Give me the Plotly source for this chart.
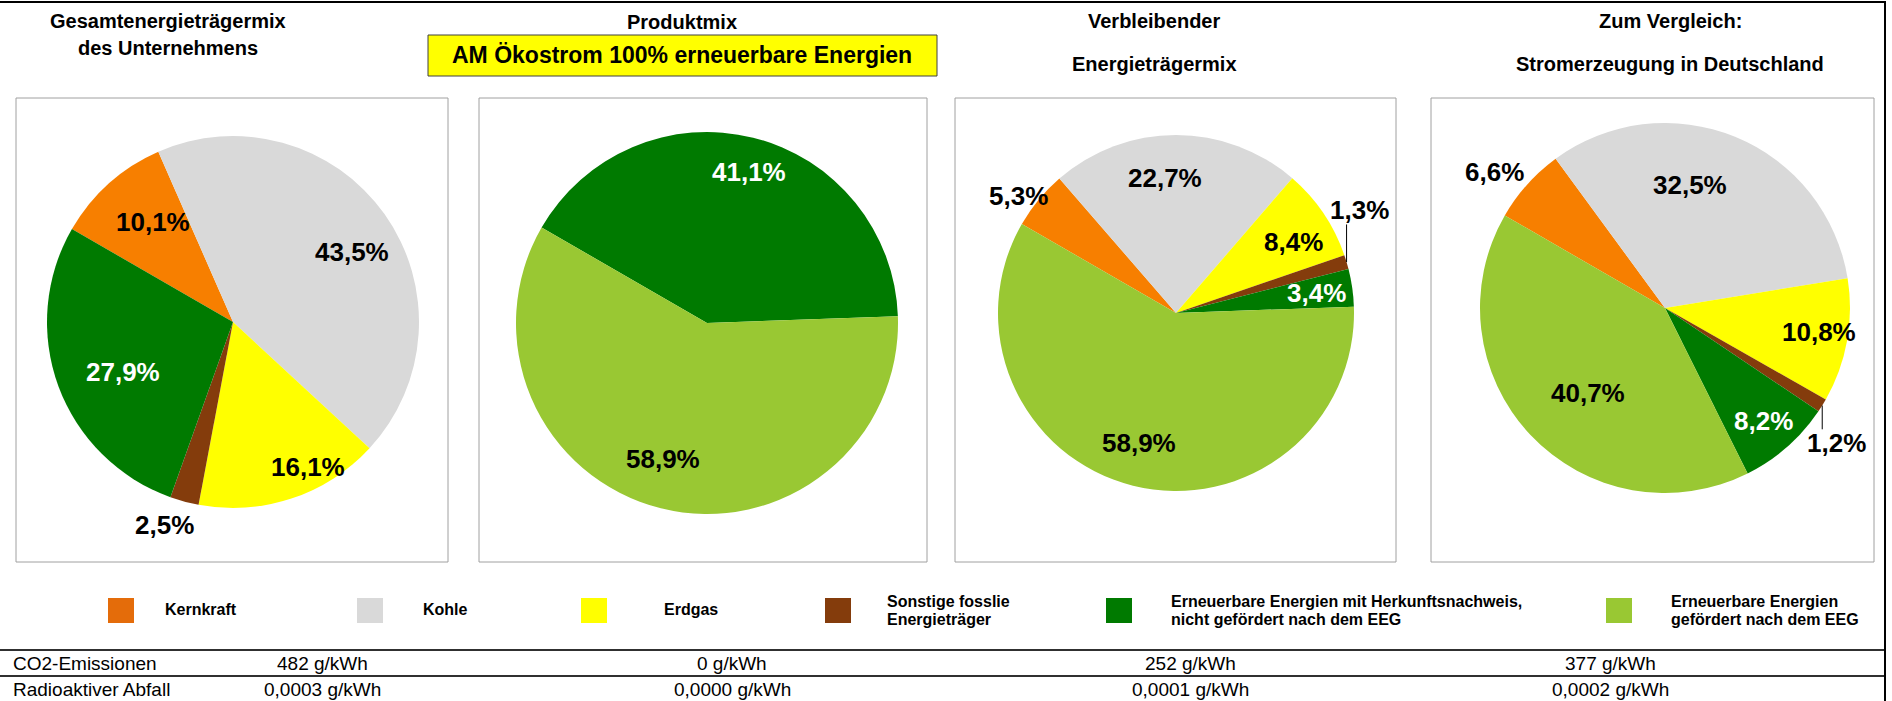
import math
import plotly.graph_objects as go

W, H = 1892, 701

# ---------------- data ----------------
categories = [
    "Kernkraft",
    "Kohle",
    "Erdgas",
    "Sonstige fosslie Energieträger",
    "Erneuerbare Energien mit Herkunftsnachweis, nicht gefördert nach dem EEG",
    "Erneuerbare Energien gefördert nach dem EEG",
]
legend_lines = [
    ["Kernkraft"],
    ["Kohle"],
    ["Erdgas"],
    ["Sonstige fosslie", "Energieträger"],
    ["Erneuerbare Energien mit Herkunftsnachweis,", "nicht gefördert nach dem EEG"],
    ["Erneuerbare Energien", "gefördert nach dem EEG"],
]

mix_unternehmen = [10.1, 43.5, 16.1, 2.5, 27.9, 0.0]
mix_produkt = [0.0, 0.0, 0.0, 0.0, 41.1, 58.9]
mix_verbleibend = [5.3, 22.7, 8.4, 1.3, 3.4, 58.9]
mix_deutschland = [6.6, 32.5, 10.8, 1.2, 8.2, 40.7]

titles = [
    ["Gesamtenergieträgermix", "des Unternehmens"],
    ["Produktmix"],
    ["Verbleibender", "Energieträgermix"],
    ["Zum Vergleich:", "Stromerzeugung in Deutschland"],
]
product_name = "AM Ökostrom 100% erneuerbare Energien"

row_labels = ["CO2-Emissionen", "Radioaktiver Abfall"]
co2_values = ["482 g/kWh", "0 g/kWh", "252 g/kWh", "377 g/kWh"]
waste_values = ["0,0003 g/kWh", "0,0000 g/kWh", "0,0001 g/kWh", "0,0002 g/kWh"]

# ---------------- styles ----------------
FONT = "Liberation Sans, Arial, sans-serif"
pie_colors = ["#F77F00", "#D9D9D9", "#FFFF00", "#843C0C", "#007A00", "#99C833"]
legend_colors = ["#E46C0A", "#D9D9D9", "#FFFF00", "#843C0C", "#007A00", "#99C833"]
label_colors = ["black", "black", "black", "black", "white", "black"]
START_ANGLE = -60

# pie geometry (pixels): centre x, centre y, radius, box
pies = [
    dict(vals=mix_unternehmen, cx=233, cy=322, r=186, box=(16, 98, 448, 562)),
    dict(vals=mix_produkt, cx=707, cy=323, r=191, box=(479, 98, 927, 562)),
    dict(vals=mix_verbleibend, cx=1176, cy=313, r=178, box=(955, 98, 1396, 562)),
    dict(vals=mix_deutschland, cx=1665, cy=308, r=185, box=(1431, 98, 1874, 562)),
]
# label placement style per slice: (radial factor, angle offset in degrees)
label_style = [
    [(0.69, 3), (0.74, 5), (0.88, -9), (1.15, 3.5), (0.65, -4), None],
    [None, None, None, None, (0.82, 1.6), (0.75, 4)],
    [(1.10, -3), (0.76, -4.7), (0.77, 2.7), (1.18, -12.6), (0.80, 0), (0.76, 2)],
    [(1.18, -3.2), (0.68, -10.8), (0.84, -1.3), (1.18, 6.5), (0.81, 0), (0.62, -4.3)],
]
leader = [None, None, {3: -1}, {3: 1}]  # vertical leader lines (direction)

title_pos = [
    (168, [21, 48]),
    (682, [22]),
    (1154, [21, 64]),
    (1670, [21, 64]),
]

legend_sq_x = [108, 357, 581, 825, 1106, 1606]
legend_txt_x = [163, 421, 662, 885, 1169, 1669]
col_x = [322, 732, 1190, 1610]


def px(x):
    return x / W


def py(y):
    return 1 - y / H


fig = go.Figure()
shapes = []
annotations = []

for i, p in enumerate(pies):
    x0, y0, x1, y1 = p["box"]
    shapes.append(dict(type="rect", xref="paper", yref="paper",
                       x0=px(x0), x1=px(x1), y0=py(y1), y1=py(y0),
                       line=dict(color="#A0A0A0", width=1), fillcolor="white", layer="below"))
    fig.add_trace(go.Pie(
        labels=categories, values=p["vals"], sort=False, direction="clockwise",
        rotation=START_ANGLE, marker=dict(colors=pie_colors, line=dict(width=0)),
        textinfo="none", hoverinfo="skip", showlegend=False,
        domain=dict(x=[px(p["cx"] - p["r"]), px(p["cx"] + p["r"])],
                    y=[py(p["cy"] + p["r"]), py(p["cy"] - p["r"])]),
    ))
    total = sum(p["vals"])
    cum = 0.0
    for k, v in enumerate(p["vals"]):
        if v <= 0:
            continue
        mid = START_ANGLE + 360 * (cum + v / 2) / total
        cum += v
        f, off = label_style[i][k]
        a = math.radians(mid + off)
        lx = p["cx"] + f * p["r"] * math.sin(a)
        ly = p["cy"] - f * p["r"] * math.cos(a)
        annotations.append(dict(
            x=px(lx), y=py(ly), xref="paper", yref="paper", showarrow=False,
            text="<b>" + f"{v:.1f}".replace(".", ",") + "%</b>",
            font=dict(family=FONT, size=26, color=label_colors[k]),
            xanchor="center", yanchor="middle"))
        if leader[i] and k in leader[i]:
            am = math.radians(mid)
            ex = p["cx"] + p["r"] * math.sin(am)
            ey = p["cy"] - p["r"] * math.cos(am)
            d = leader[i][k]
            ty = ly - d * 14
            shapes.append(dict(type="line", xref="paper", yref="paper",
                               x0=px(ex), x1=px(ex), y0=py(ey), y1=py(ty),
                               line=dict(color="black", width=1)))

# titles
for (cx, ys), lines in zip(title_pos, titles):
    for y, t in zip(ys, lines):
        annotations.append(dict(x=px(cx), y=py(y), xref="paper", yref="paper",
                                showarrow=False, text=f"<b>{t}</b>",
                                font=dict(family=FONT, size=20, color="black"),
                                xanchor="center", yanchor="middle"))

# product name box
shapes.append(dict(type="rect", xref="paper", yref="paper",
                   x0=px(428), x1=px(937), y0=py(76), y1=py(35),
                   line=dict(color="#404040", width=1), fillcolor="#FFFF00"))
annotations.append(dict(x=px(682), y=py(55), xref="paper", yref="paper", showarrow=False,
                        text=f"<b>{product_name}</b>",
                        font=dict(family=FONT, size=23, color="black"),
                        xanchor="center", yanchor="middle"))

# legend
for k in range(len(categories)):
    shapes.append(dict(type="rect", xref="paper", yref="paper",
                       x0=px(legend_sq_x[k]), x1=px(legend_sq_x[k] + 26),
                       y0=py(623), y1=py(598),
                       line=dict(width=0), fillcolor=legend_colors[k]))
    lines = legend_lines[k]
    ys = [609] if len(lines) == 1 else [601, 619]
    for y, t in zip(ys, lines):
        annotations.append(dict(x=px(legend_txt_x[k]), y=py(y), xref="paper", yref="paper",
                                showarrow=False, text=f"<b>{t}</b>",
                                font=dict(family=FONT, size=16, color="black"),
                                xanchor="left", yanchor="middle"))

# table
for y in [650, 676]:
    shapes.append(dict(type="line", xref="paper", yref="paper",
                       x0=0, x1=px(1886), y0=py(y), y1=py(y),
                       line=dict(color="#303030", width=2)))
for r, (lab, vals) in enumerate(zip(row_labels, [co2_values, waste_values])):
    y = 663 + r * 26
    annotations.append(dict(x=px(11), y=py(y), xref="paper", yref="paper", showarrow=False,
                            text=lab, font=dict(family=FONT, size=19, color="black"),
                            xanchor="left", yanchor="middle"))
    for cx, v in zip(col_x, vals):
        annotations.append(dict(x=px(cx), y=py(y), xref="paper", yref="paper", showarrow=False,
                                text=v, font=dict(family=FONT, size=19, color="black"),
                                xanchor="center", yanchor="middle"))

# outer frame
shapes.append(dict(type="line", xref="paper", yref="paper", x0=0, x1=px(1886),
                   y0=py(2), y1=py(2), line=dict(color="black", width=2)))
shapes.append(dict(type="line", xref="paper", yref="paper", x0=px(1885), x1=px(1885),
                   y0=py(2), y1=0, line=dict(color="black", width=2)))

fig.update_layout(
    width=W, height=H, margin=dict(l=0, r=0, t=0, b=0),
    paper_bgcolor="white", plot_bgcolor="white",
    shapes=shapes, annotations=annotations, showlegend=False,
)

fig.write_html("out.html", config={"displayModeBar": False},
               post_script="document.body.style.margin='0';document.body.style.overflow='hidden';")
